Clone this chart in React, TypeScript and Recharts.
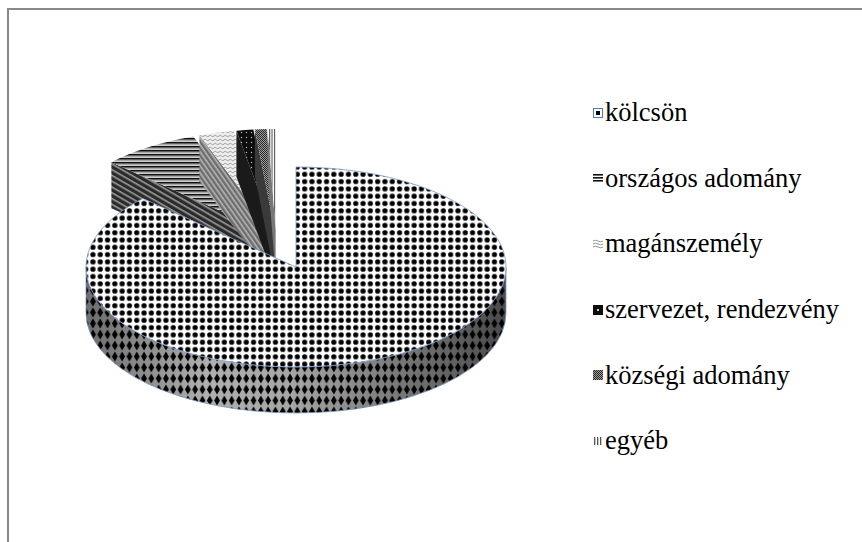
import React from 'react';
import { PieChart, Pie } from 'recharts';

// share of each source, in percent, clockwise from 12 o'clock
const categories = ['kölcsön', 'országos adomány', 'magánszemély', 'szervezet, rendezvény', 'községi adomány', 'egyéb'];
const shares = [87.0, 7.5, 2.7, 1.3, 0.9, 0.6];

const data = categories.map((name, i) => ({ name, value: shares[i] }));

// look of the 3D pie
const TILT = 100 / 210;
const DEPTH = 46;
const EXPLODE = 0.1;
const topFills = ['url(#kTop)', 'url(#oTop)', 'url(#mTop)', 'url(#sTop)', 'url(#kzTop)', 'url(#eTop)'];
const sideFills = ['url(#kSide)', 'url(#oSide)', 'url(#mSide)', '#1a1a1a', '#3a3a3a', '#777'];
const OUTLINE = '#7d9cc9';
const SERIF = '"Liberation Serif", "Times New Roman", serif';

const rad = (a: number) => (a * Math.PI) / 180;

function pt(cx: number, cy: number, rx: number, ry: number, a: number, dy = 0) {
  return `${cx + rx * Math.cos(rad(a))},${cy - ry * Math.sin(rad(a)) + dy}`;
}

// parts of [lo, hi] where the rim faces the viewer
function frontRanges(lo: number, hi: number) {
  const out: [number, number][] = [];
  for (let k = -3; k <= 3; k++) {
    const l = Math.max(lo, 180 + 360 * k);
    const h = Math.min(hi, 360 + 360 * k);
    if (h > l) out.push([l, h]);
  }
  return out;
}

function makeSlice(layer: 'front' | 'back') {
  return (props: any) => {
    const name = props.payload?.name ?? props.name;
    const idx = categories.indexOf(name);
    if ((layer === 'front') !== (idx === 0)) return <g />;
    const rx = props.outerRadius;
    const ry = rx * TILT;
    const s = Math.max(props.startAngle, props.endAngle);
    const e = Math.min(props.startAngle, props.endAngle);
    const mid = (s + e) / 2;
    const ex = layer === 'back' ? EXPLODE : 0;
    const cx = props.cx + rx * ex * Math.cos(rad(mid));
    const cy = props.cy - ry * ex * Math.sin(rad(mid));
    const large = s - e > 180 ? 1 : 0;

    const top = `M${cx},${cy} L${pt(cx, cy, rx, ry, s)} A${rx},${ry} 0 ${large} 1 ${pt(cx, cy, rx, ry, e)} Z`;
    const rims = frontRanges(e, s).map(
      ([l, h]) =>
        `M${pt(cx, cy, rx, ry, h)} A${rx},${ry} 0 0 1 ${pt(cx, cy, rx, ry, l)} L${pt(cx, cy, rx, ry, l, DEPTH)} A${rx},${ry} 0 0 0 ${pt(cx, cy, rx, ry, h, DEPTH)} Z`
    );
    const faces: string[] = [];
    const face = (a: number) =>
      `M${cx},${cy} L${pt(cx, cy, rx, ry, a)} L${pt(cx, cy, rx, ry, a, DEPTH)} L${cx},${cy + DEPTH} Z`;
    if (Math.cos(rad(s)) < -0.01) faces.push(face(s));
    if (Math.cos(rad(e)) > 0.01) faces.push(face(e));
    const side = [...rims, ...faces];
    const isMain = idx === 0;

    return (
      <g>
        {isMain && side.map((d, i) => <path key={'g' + i} d={d} fill="url(#kShade)" />)}
        {side.map((d, i) => (
          <path key={'s' + i} d={d} fill={sideFills[idx]} stroke={isMain ? OUTLINE : 'none'} strokeWidth={0.8} />
        ))}
        <path d={top} fill={topFills[idx]} stroke={isMain ? OUTLINE : 'none'} strokeWidth={0.8} />
      </g>
    );
  };
}

const frontSlice = makeSlice('front');
const backSlice = makeSlice('back');

function Icon({ i }: { i: number }) {
  const box = { width: 10, height: 10, style: { marginLeft: 3, flex: 'none' } };
  if (i === 0)
    return (
      <svg {...box}>
        <rect x={0.5} y={0.5} width={9} height={9} fill="#fff" stroke="#4a7ebb" />
        <rect x={3} y={3} width={4} height={4} fill="#000" />
      </svg>
    );
  if (i === 1)
    return (
      <svg {...box}>
        {[1, 4, 7].map((y) => <rect key={y} x={0} y={y} width={10} height={1.6} fill="#111" />)}
      </svg>
    );
  if (i === 2)
    return (
      <svg {...box}>
        {[2, 5, 8].map((y) => (
          <path key={y} d={`M0 ${y} Q2.5 ${y - 1.5} 5 ${y} T10 ${y}`} stroke="#888" fill="none" strokeWidth={0.9} />
        ))}
      </svg>
    );
  if (i === 3)
    return (
      <svg {...box}>
        <rect width={10} height={10} fill="#0d0d0d" />
        <rect x={4} y={4} width={2} height={2} fill="#ccc" />
      </svg>
    );
  if (i === 4)
    return (
      <svg {...box}>
        <rect width={10} height={10} fill="url(#kzTop)" />
      </svg>
    );
  return (
    <svg {...box}>
      {[1, 4, 7].map((x) => <rect key={x} x={x} y={1} width={1.3} height={8} fill="#555" />)}
    </svg>
  );
}

export default function App() {
  return (
    <div style={{ position: 'fixed', inset: 0, overflow: 'hidden', background: '#fff' }}>
      <svg width={0} height={0} style={{ position: 'absolute' }}>
        <defs>
          <pattern id="kTop" width="7.3" height="7.3" patternUnits="userSpaceOnUse">
            <rect width="7.3" height="7.3" fill="#fff" />
            <circle cx="3.65" cy="3.65" r="2.6" fill="#000" />
          </pattern>
          <linearGradient id="kShade" gradientUnits="userSpaceOnUse" x1="72" y1="0" x2="492" y2="0">
            <stop offset="0" stopColor="#6a6a6a" />
            <stop offset="0.3" stopColor="#b0b0b0" />
            <stop offset="0.5" stopColor="#a6a6a6" />
            <stop offset="0.75" stopColor="#7a7a7a" />
            <stop offset="1" stopColor="#4c4c4c" />
          </linearGradient>
          <pattern id="kSide" width="7.3" height="11" patternUnits="userSpaceOnUse">
            <path d="M3.65 0.5 L6.5 5.5 L3.65 10.5 L0.8 5.5Z" fill="#000" />
          </pattern>
          <pattern id="oTop" width="4" height="4" patternUnits="userSpaceOnUse">
            <rect width="4" height="4" fill="#d9d9d9" />
            <rect width="4" height="1.6" fill="#111" />
            <rect y="2.5" width="4" height="0.6" fill="#777" />
          </pattern>
          <pattern id="oSide" width="5" height="5" patternUnits="userSpaceOnUse" patternTransform="rotate(30)">
            <rect width="5" height="5" fill="#2b2b2b" />
            <rect y="1" width="5" height="1.6" fill="#9a9a9a" />
          </pattern>
          <pattern id="mTop" width="5" height="4" patternUnits="userSpaceOnUse">
            <rect width="5" height="4" fill="#eeeeee" />
            <path d="M0 2 Q1.25 0.5 2.5 2 T5 2" stroke="#888" fill="none" strokeWidth="0.8" />
          </pattern>
          <pattern id="mSide" width="4" height="4" patternUnits="userSpaceOnUse" patternTransform="rotate(55)">
            <rect width="4" height="4" fill="#6d6d6d" />
            <rect width="4" height="1.6" fill="#b5b5b5" />
          </pattern>
          <pattern id="sTop" width="5" height="5" patternUnits="userSpaceOnUse">
            <rect width="5" height="5" fill="#0d0d0d" />
            <circle cx="2.5" cy="2.5" r="0.7" fill="#bbb" />
          </pattern>
          <pattern id="kzTop" width="2" height="2" patternUnits="userSpaceOnUse">
            <rect width="2" height="2" fill="#2a2a2a" />
            <rect width="1" height="1" fill="#9a9a9a" />
            <rect x="1" y="1" width="1" height="1" fill="#9a9a9a" />
          </pattern>
          <pattern id="eTop" width="2.5" height="2" patternUnits="userSpaceOnUse">
            <rect width="2.5" height="2" fill="#fff" />
            <rect width="1.1" height="2" fill="#555" />
          </pattern>
        </defs>
      </svg>
      <div
        style={{
          position: 'absolute',
          left: 7,
          top: 8,
          width: 900,
          height: 600,
          borderLeft: '2px solid #888',
          borderTop: '2px solid #888',
        }}
      >
        <PieChart width={846} height={526}>
          <Pie
            data={data}
            dataKey="value"
            nameKey="name"
            cx={262}
            cy={224}
            outerRadius={210}
            startAngle={90}
            endAngle={-270}
            stroke="none"
            isAnimationActive={false}
            shape={backSlice}
            activeShape={backSlice}
            inactiveShape={backSlice}
          />
          <Pie
            data={data}
            dataKey="value"
            nameKey="name"
            cx={282}
            cy={252}
            outerRadius={210}
            startAngle={90}
            endAngle={-270}
            stroke="none"
            isAnimationActive={false}
            shape={frontSlice}
            activeShape={frontSlice}
            inactiveShape={frontSlice}
          />
        </PieChart>
        <div
          style={{
            position: 'absolute',
            left: 581,
            top: 70,
            width: 275,
            fontFamily: SERIF,
            fontSize: 26.5,
            color: '#000',
          }}
        >
          {categories.map((name, i) => (
            <div key={name} style={{ height: 65.6, display: 'flex', alignItems: 'center', whiteSpace: 'nowrap' }}>
              <Icon i={i} />
              <span style={{ marginLeft: 2 }}>{name}</span>
            </div>
          ))}
        </div>
      </div>
    </div>
  );
}
